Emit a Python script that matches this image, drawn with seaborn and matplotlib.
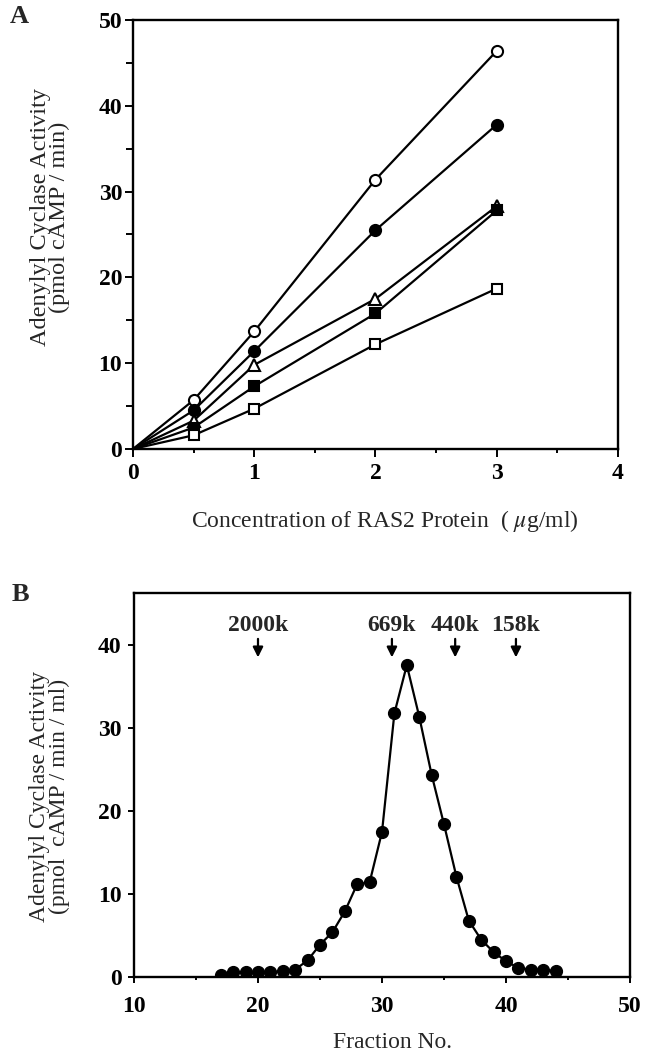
import matplotlib
matplotlib.use("Agg")
import matplotlib.pyplot as plt
import seaborn as sns
import pandas as pd
from matplotlib.ticker import MultipleLocator

# ---------------------------
# Data - panel A
# ---------------------------
conc = [0, 0.5, 1, 2, 3]
open_circle = [0, 5.7, 13.7, 31.4, 46.4]
filled_circle = [0, 4.5, 11.4, 25.5, 37.8]
open_triangle = [0, 3.3, 9.8, 17.5, 28.3]
filled_square = [0, 2.5, 7.3, 15.8, 27.8]
open_square = [0, 1.6, 4.7, 12.2, 18.7]

# ---------------------------
# Data - panel B
# ---------------------------
fraction = list(range(17, 45))
activity = [0.3, 0.6, 0.6, 0.6, 0.6, 0.7, 0.9, 2.0, 3.9, 5.4, 7.9, 11.2, 11.4, 17.5,
            31.8, 37.6, 31.4, 24.4, 18.4, 12.1, 6.8, 4.5, 3.0, 1.9, 1.1, 0.9, 0.9, 0.7]
marker_labels = ["2000k", "669k", "440k", "158k"]
marker_pos = [20.0, 30.8, 35.9, 40.8]

sns.set_theme(style="ticks")
plt.rcParams["font.family"] = ["Liberation Serif", "DejaVu Serif"]
plt.rcParams["mathtext.fontset"] = "stix"

fig = plt.figure(figsize=(6.51, 10.51), dpi=100)
axA = fig.add_axes([0.2043, 0.5728, 0.7450, 0.4082])
axB = fig.add_axes([0.2058, 0.0704, 0.7620, 0.3654])

# ---------------------------
# Panel A
# ---------------------------
series = [
    (open_circle, "o", "white", 8),
    (filled_circle, "o", "black", 8),
    (open_triangle, "^", "white", 9),
    (filled_square, "s", "black", 7),
    (open_square, "s", "white", 7),
]
for vals, mk, fc, ms in series:
    df = pd.DataFrame({"conc": conc, "act": vals})
    sns.lineplot(data=df, x="conc", y="act", ax=axA, color="black", lw=1.6,
                 marker=mk, markersize=ms, markerfacecolor=fc,
                 markeredgecolor="black", markeredgewidth=1.5,
                 markevery=[1, 2, 3, 4])

axA.set_xlim(0, 4)
axA.set_ylim(0, 50)
axA.xaxis.set_major_locator(MultipleLocator(1))
axA.xaxis.set_minor_locator(MultipleLocator(0.5))
axA.yaxis.set_major_locator(MultipleLocator(10))
axA.yaxis.set_minor_locator(MultipleLocator(5))
axA.set_xlabel(r"Concentration of RAS2 Protein  ( $\mu$g/ml)", fontsize=17)
axA.set_ylabel("Adenylyl Cyclase Activity\n(pmol cAMP / min)", fontsize=17.5,
               linespacing=0.9)
axA.xaxis.set_label_coords(0.52, -0.137)
axA.yaxis.set_label_coords(-0.129, 0.54)
axA.tick_params(which="major", length=5.8, pad=2)
axA.tick_params(axis="x", which="minor", length=3)
axA.tick_params(axis="y", which="minor", length=5)
axA.tick_params(axis="x", which="major", pad=4)

# ---------------------------
# Panel B
# ---------------------------
dfB = pd.DataFrame({"fraction": fraction, "activity": activity})
sns.lineplot(data=dfB, x="fraction", y="activity", ax=axB, color="black", lw=1.6,
             marker="o", markersize=8.5, markerfacecolor="black",
             markeredgecolor="black", markeredgewidth=1)

for lab, pos in zip(marker_labels, marker_pos):
    axB.text(pos, 42.4, lab, ha="center", va="center", fontsize=17, fontweight="bold")
    axB.annotate("", xy=(pos, 38.2), xytext=(pos, 41.1),
                 arrowprops=dict(arrowstyle="-|>,head_width=0.25,head_length=0.5",
                                 color="black", lw=1.6))

axB.set_xlim(10, 50)
axB.set_ylim(0, 46.3)
axB.xaxis.set_major_locator(MultipleLocator(10))
axB.xaxis.set_minor_locator(MultipleLocator(5))
axB.yaxis.set_major_locator(MultipleLocator(10))
axB.set_xlabel("Fraction No.", fontsize=17)
axB.set_ylabel("Adenylyl Cyclase Activity\n(pmol  cAMP / min / ml)", fontsize=17,
               linespacing=0.9)
axB.xaxis.set_label_coords(0.522, -0.143)
axB.yaxis.set_label_coords(-0.129, 0.47)
axB.tick_params(which="major", length=4)
axB.tick_params(which="minor", length=2.5)
axB.tick_params(axis="y", which="major", pad=5)
axB.tick_params(axis="x", which="major", pad=10)

for ax in (axA, axB):
    for s in ax.spines.values():
        s.set_visible(True)
        s.set_linewidth(1.7)
        s.set_color("black")
    ax.tick_params(which="both", direction="out", width=1.4, colors="black",
                   labelsize=17)
    for t in ax.get_xticklabels() + ax.get_yticklabels():
        t.set_fontweight("bold")

fig.text(0.015, 0.984, "A", fontsize=19, fontweight="bold", va="center")
fig.text(0.018, 0.434, "B", fontsize=19, fontweight="bold", va="center")

fig.savefig("out.png", dpi=100)
